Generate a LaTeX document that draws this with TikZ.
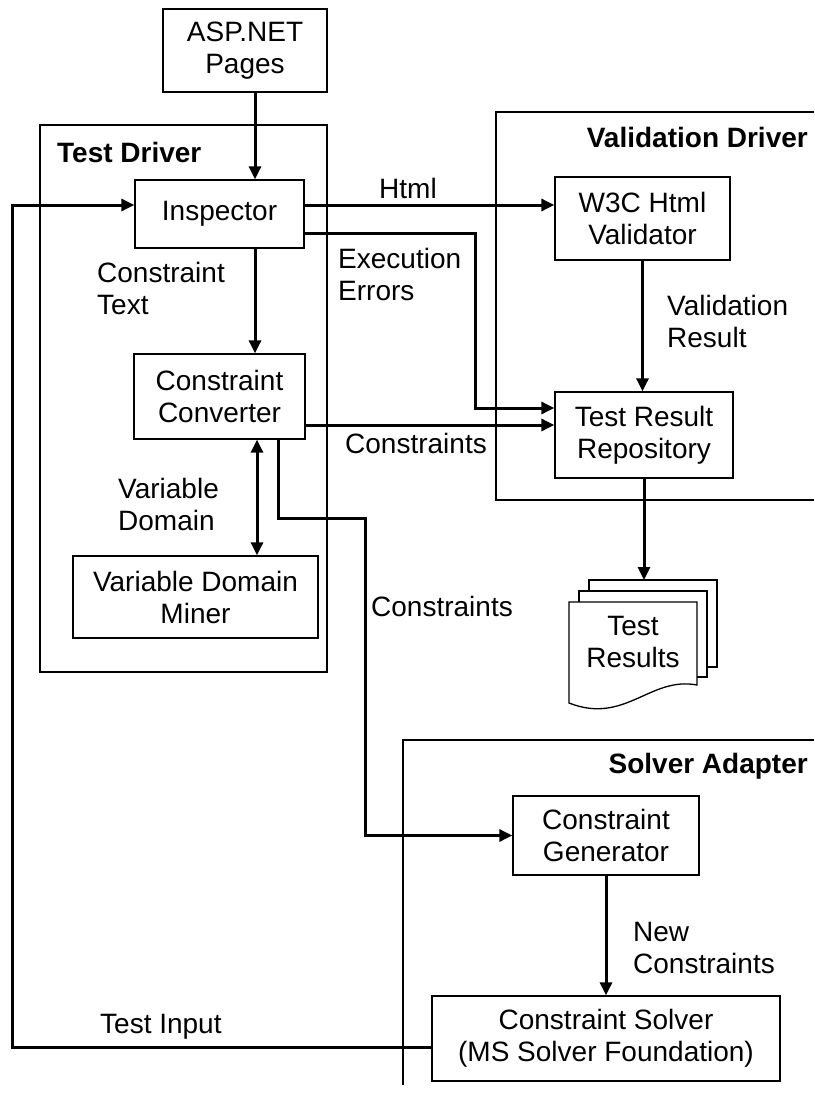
\documentclass[tikz,border=0pt]{standalone}
\usepackage{fontspec}
\setmainfont{Liberation Sans}
\usetikzlibrary{arrows.meta}
\begin{document}
\begin{tikzpicture}[x=1pt,y=-1pt,
  box/.style={draw,line width=1.3pt,fill=white,align=center,inner sep=0pt},
  cont/.style={draw,line width=1.3pt},
  conn/.style={line width=3pt,-{Triangle[length=13pt,width=12pt]}},
  dconn/.style={line width=3pt,{Triangle[length=13pt,width=12pt]}-{Triangle[length=13pt,width=12pt]}},
  lbl/.style={align=left,inner sep=0pt,anchor=west},
  every node/.append style={font=\fontsize{28}{32}\selectfont}]
\useasboundingbox[fill=white] (0,0) rectangle (814,1113);

% containers
\draw[cont] (40,125) rectangle (327,672);
\draw[cont] (814,112) -- (496,112) -- (496,500) -- (814,500);
\draw[cont] (814,740) -- (403,740) -- (403,1085);
\node[lbl,font=\fontsize{28}{32}\selectfont\bfseries] (tdl) at (57,152) {Test Driver};
\node[lbl,anchor=east,font=\fontsize{28}{32}\selectfont\bfseries] (vdl) at (808,137) {Validation Driver};
\node[lbl,anchor=east,font=\fontsize{28}{32}\selectfont\bfseries] (sal) at (808,766) {Solver Adapter};

% boxes
\node[box,minimum width=164pt,minimum height=83pt] (asp) at (245,50.5) {ASP.NET\\Pages};
\node[box,minimum width=169pt,minimum height=68pt] (insp) at (219.5,214) {Inspector};
\node[box,minimum width=171pt,minimum height=85pt] (conv) at (219.5,396.5) {Constraint\\Converter};
\node[box,minimum width=245pt,minimum height=82pt] (miner) at (195.5,597) {Variable Domain\\Miner};
\node[box,minimum width=175pt,minimum height=83pt] (w3c) at (642.5,218.5) {W3C Html\\Validator};
\node[box,minimum width=178pt,minimum height=86pt] (repo) at (644,435) {Test Result\\Repository};
\node[box,minimum width=186pt,minimum height=79pt] (gen) at (606,835.5) {Constraint\\Generator};
\node[box,minimum width=348pt,minimum height=85pt] (solver) at (606,1038.5) {Constraint Solver\\(MS Solver Foundation)};

% test results document
\draw[line width=1.3pt,fill=white] (589,580) rectangle (717,667);
\draw[line width=1.3pt,fill=white] (579,591) rectangle (707,677);
\draw[line width=1.3pt,fill=white] (569,602) -- (697,602) -- (697,685)
  .. controls (650,676) and (625,725) .. (569,703) -- cycle;
\node[align=center,inner sep=0pt] (res) at (633,642) {Test\\Results};
\coordinate (doctop) at (644,580);

% connectors
\draw[conn] ([xshift=10pt]asp.south) -- ([xshift=35.5pt]insp.north);
\draw[conn] ([xshift=35.5pt]insp.south) -- ([xshift=35.5pt]conv.north);
\draw[dconn] ([xshift=37.5pt]conv.south) -- ([xshift=37.5pt]conv.south |- miner.north);
\draw[conn] ([yshift=9pt]insp.east) -- ([yshift=9pt]insp.east -| w3c.west);
\coordinate (ee) at (475,408);
\draw[conn] ([yshift=-19pt]insp.east) -| (ee) -- (ee -| repo.west);
\draw[conn] ([yshift=-28.5pt]conv.east) -- ([yshift=-28.5pt]conv.east -| repo.west);
\draw[conn] (w3c.south) -- (w3c.south |- repo.north);
\draw[conn] (repo.south) -- (doctop);
\coordinate (c1) at (365,518);
\draw[conn] ([xshift=58.5pt]conv.south) |- (c1) |- (gen.west);
\draw[conn] (gen.south) -- (solver.north);
\coordinate (fb1) at (12,1047);
\coordinate (fb2) at (12,205);
\draw[conn] ([yshift=-8.5pt]solver.west) -- (fb1) -- (fb2) -- ([yshift=9pt]insp.west);

% labels
\node[inner sep=0pt] (lhtml) at (408,188) {Html};
\node[lbl] (lexe) at (338,274) {Execution\\Errors};
\node[lbl] (lct) at (97,288) {Constraint\\Text};
\node[lbl] (lvd) at (118,504) {Variable\\Domain};
\node[lbl] (lvr) at (667,321) {Validation\\Result};
\node[lbl] (lc1) at (345,443) {Constraints};
\node[lbl] (lc2) at (371,606) {Constraints};
\node[lbl] (lnc) at (633,948) {New\\Constraints};
\node[lbl] (lti) at (100,1027) {Test Input};
\end{tikzpicture}
\end{document}
